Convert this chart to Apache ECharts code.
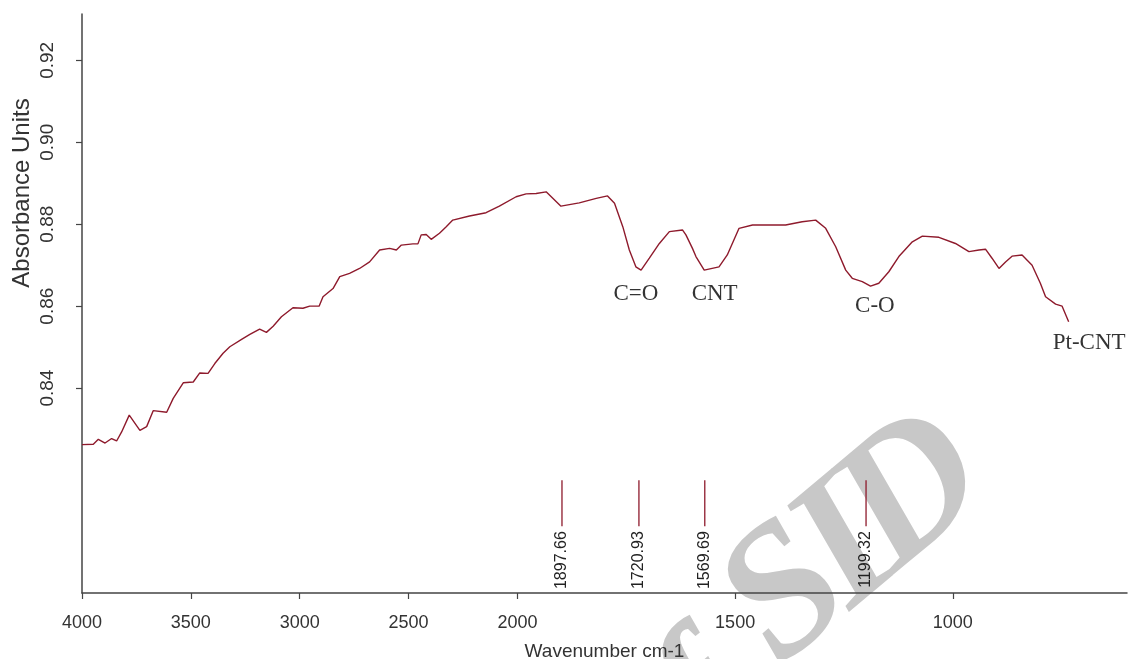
<!DOCTYPE html>
<html>
<head>
<meta charset="utf-8">
<title>Pt-CNT FTIR spectrum</title>
<script src="https://cdn.jsdelivr.net/npm/echarts@6/dist/echarts.min.js"></script>
<style>
  html, body { margin: 0; padding: 0; background: #ffffff; }
  #chart { width: 1128px; height: 659px; }
</style>
</head>
<body>
<div id="chart"></div>
<script>
// Absorbance spectrum of Pt-CNT (wavenumber in cm-1, absorbance units)
const wavenumber = [4000,3948,3925,3894,3864,3841,3818,3783,3734,3703,3673,3611,3581,3535,3489,3459,3421,3390,3352,3321,
  3267,3229,3184,3153,3122,3084,3031,2985,2954,2911,2893,2847,2816,2771,2725,2679,2633,2587,2556,2533,
  2480,2457,2442,2419,2396,2358,2327,2297,2220,2144,2083,2006,1980,1957,1934,1900,1858,1819,1793,1777,
  1758,1743,1728,1716,1697,1674,1651,1621,1613,1598,1590,1571,1537,1518,1491,1460,1422,1384,1346,1315,
  1292,1269,1246,1231,1208,1189,1170,1147,1124,1093,1070,1032,994,963,940,925,910,894,879,864,
  841,818,799,787,764,749,734];
const absorbance = [0.8262,0.8263,0.8275,0.8266,0.8277,0.8271,0.8293,0.8334,0.8297,0.8306,0.8345,0.8341,0.8375,0.8413,0.8415,0.8437,0.8436,0.8460,0.8485,0.8501,
  0.8519,0.8531,0.8544,0.8536,0.8551,0.8574,0.8596,0.8595,0.8600,0.8600,0.8623,0.8643,0.8672,0.8680,0.8692,0.8708,0.8737,0.8741,0.8737,0.8749,
  0.8752,0.8752,0.8774,0.8775,0.8763,0.8778,0.8794,0.8810,0.8820,0.8828,0.8844,0.8867,0.8874,0.8875,0.8879,0.8844,0.8852,0.8863,0.8869,0.8851,
  0.8794,0.8737,0.8696,0.8688,0.8717,0.8753,0.8782,0.8786,0.8774,0.8741,0.8721,0.8688,0.8696,0.8725,0.8790,0.8798,0.8798,0.8798,0.8806,0.8810,
  0.8790,0.8745,0.8688,0.8668,0.8660,0.8649,0.8656,0.8684,0.8721,0.8757,0.8771,0.8768,0.8753,0.8733,0.8737,0.8739,0.8717,0.8692,0.8708,0.8722,
  0.8725,0.8700,0.8656,0.8623,0.8605,0.8600,0.8562];

// Picked peak positions (cm-1)
const peakWavenumbers = [1897.66, 1720.93, 1569.69, 1199.32];

// Band assignments
const bandNames = ['C=O', 'CNT', 'C-O', 'Pt-CNT'];
const bandWavenumbers = [1728, 1547, 1179, 687];
const bandAbsorbance = [0.8630, 0.8630, 0.8601, 0.8511];

// Tick labels
const xTickWavenumbers = [4000, 3500, 3000, 2500, 2000, 1500, 1000];
const yTickValues = [0.84, 0.86, 0.88, 0.90, 0.92];

// The wavenumber axis is drawn at half scale above 2000 cm-1 and full scale below it.
const SPLIT = 2000;
function toAxis(w) { return w >= SPLIT ? (4000 - w) / 2 : (4000 - SPLIT) / 2 + (SPLIT - w); }
function fromAxis(u) { return u <= 1000 ? 4000 - 2 * u : SPLIT - (u - 1000); }

const curveColor = '#8e1a2c';
const textColor = '#333333';
const axisColor = '#444444';

const spectrum = wavenumber.map((w, i) => [toAxis(w), absorbance[i]]);
const peaks = peakWavenumbers.map(w => [toAxis(w), w]);
const bands = bandNames.map((n, i) => ({ name: n, value: [toAxis(bandWavenumbers[i]), bandAbsorbance[i]] }));

// Background watermark letters, laid along a 40 degree baseline
const markAngle = 40 * Math.PI / 180;
const markLetters = [
  { ch: 'f', x: 706, y: 706 },
  { ch: 'S', x: 788, y: 598 },
  { ch: 'I', x: 847, y: 551 },
  { ch: 'D', x: 914, y: 495 }
];
const markGraphics = markLetters.map(m => ({
  type: 'text',
  z: -10,
  silent: true,
  x: m.x, y: m.y,
  rotation: markAngle,
  style: {
    text: m.ch,
    font: 'italic bold 185px "Liberation Serif"',
    fill: '#c8c8c8',
    textAlign: 'center',
    textVerticalAlign: 'middle'
  }
}));

const chart = echarts.init(document.getElementById('chart'), null, { renderer: 'canvas' });

chart.setOption({
  animation: false,
  backgroundColor: '#ffffff',
  grid: { left: 82, right: 1, top: 14, bottom: 66, containLabel: false, outerBoundsMode: 'none' },
  xAxis: {
    type: 'value',
    min: 0,
    max: 2400,
    name: 'Wavenumber cm-1',
    nameLocation: 'middle',
    nameGap: 49,
    nameTextStyle: { fontFamily: 'Liberation Sans', fontSize: 19, color: textColor },
    axisLine: { show: true, onZero: false, lineStyle: { color: axisColor, width: 1.5 } },
    axisTick: { show: true, inside: false, length: 6, customValues: xTickWavenumbers.map(toAxis), lineStyle: { color: axisColor, width: 1.2 } },
    axisLabel: {
      customValues: xTickWavenumbers.map(toAxis),
      formatter: v => String(Math.round(fromAxis(v))),
      margin: 21,
      fontFamily: 'Liberation Sans', fontSize: 18, color: textColor,
      showMinLabel: true, showMaxLabel: true
    },
    splitLine: { show: false }
  },
  yAxis: {
    type: 'value',
    min: 0.79,
    max: 0.9313,
    axisLine: { show: true, onZero: false, lineStyle: { color: axisColor, width: 1.5 } },
    axisTick: { show: true, length: 6, customValues: yTickValues, lineStyle: { color: axisColor, width: 1.2 } },
    axisLabel: {
      customValues: yTickValues,
      formatter: v => v.toFixed(2),
      rotate: 90,
      margin: 25,
      fontFamily: 'Liberation Sans', fontSize: 19, color: textColor
    },
    splitLine: { show: false }
  },
  graphic: markGraphics.concat([
    {
      type: 'text',
      silent: true,
      x: 22, y: 193,
      rotation: Math.PI / 2,
      style: {
        text: 'Absorbance Units',
        font: '24px "Liberation Sans"',
        fill: textColor,
        textAlign: 'center',
        textVerticalAlign: 'middle'
      }
    }
  ]),
  series: [
    {
      type: 'line',
      data: spectrum,
      showSymbol: false,
      symbol: 'none',
      lineStyle: { color: curveColor, width: 1.4 },
      z: 3
    },
    {
      type: 'custom',
      data: peaks,
      z: 3,
      renderItem: function (params, api) {
        const u = api.value(0);
        const w = api.value(1);
        const top = api.coord([u, 0.8175]);
        const bot = api.coord([u, 0.8063]);
        return {
          type: 'group',
          children: [
            { type: 'line', shape: { x1: top[0], y1: top[1], x2: bot[0], y2: bot[1] }, style: { stroke: curveColor, lineWidth: 1.3 } },
            {
              type: 'text',
              x: bot[0], y: bot[1] + 5,
              rotation: Math.PI / 2,
              style: {
                text: w.toFixed(2),
                font: '16px "Liberation Sans"',
                fill: '#222222',
                textAlign: 'right',
                textVerticalAlign: 'middle'
              }
            }
          ]
        };
      }
    },
    {
      type: 'scatter',
      data: bands,
      symbolSize: 0,
      z: 4,
      label: {
        show: true,
        position: 'inside',
        formatter: p => p.name,
        fontFamily: 'Liberation Serif',
        fontSize: 23,
        color: '#000000'
      }
    }
  ]
});
</script>
</body>
</html>
